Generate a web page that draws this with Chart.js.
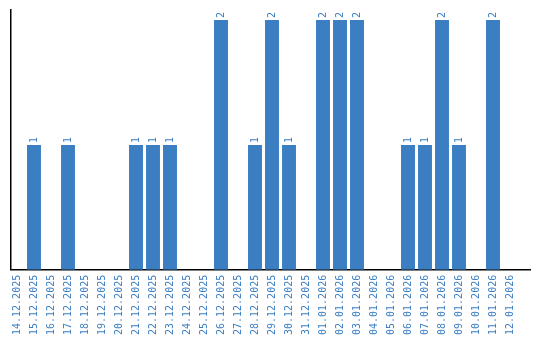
<!DOCTYPE html>
<html><head><meta charset="utf-8">
<script src="https://cdn.jsdelivr.net/npm/chart.js@4/dist/chart.umd.min.js"></script>
<style>html,body{margin:0;padding:0;background:#fff}#w{width:540px;height:340px}</style>
</head><body><div id="w"><canvas id="c"></canvas></div>
<script>
const categories = ["14.12.2025","15.12.2025","16.12.2025","17.12.2025","18.12.2025","19.12.2025","20.12.2025","21.12.2025","22.12.2025","23.12.2025","24.12.2025","25.12.2025","26.12.2025","27.12.2025","28.12.2025","29.12.2025","30.12.2025","31.12.2025","01.01.2026","02.01.2026","03.01.2026","04.01.2026","05.01.2026","06.01.2026","07.01.2026","08.01.2026","09.01.2026","10.01.2026","11.01.2026","12.01.2026"];
const counts = [0,1,0,1,0,0,0,1,1,1,0,0,2,0,1,2,1,0,2,2,2,0,0,1,1,2,1,0,2,0];
const BLUE = '#3b7ec2';
const points = counts.map((v,i)=>({x:i, y:v}));
const valueLabels = {
  id:'valueLabels',
  afterDatasetsDraw(chart){
    const ctx = chart.ctx;
    const meta = chart.getDatasetMeta(0);
    ctx.save();
    ctx.fillStyle = BLUE;
    ctx.font = '10px "DejaVu Sans Mono"';
    ctx.textAlign = 'left';
    ctx.textBaseline = 'middle';
    meta.data.forEach((bar,i)=>{
      const v = counts[i];
      if(!v) return;
      ctx.save();
      ctx.translate(bar.x, bar.y - 2);
      ctx.rotate(-Math.PI/2);
      ctx.fillText(String(v), 0, 0);
      ctx.restore();
    });
    ctx.restore();
  }
};
new Chart(document.getElementById('c'), {
  type:'bar',
  data:{datasets:[{data:points, backgroundColor:BLUE, barPercentage:0.82, categoryPercentage:1}]},
  options:{
    responsive:true, maintainAspectRatio:false, animation:false,
    layout:{padding:{left:10.5,right:9.5,top:10,bottom:0}},
    plugins:{legend:{display:false}, tooltip:{enabled:false}},
    scales:{
      x:{type:'linear', min:-0.382, max:30.206, offset:false,
         grid:{display:false, drawTicks:false}, border:{color:'#000', width:1.5},
         afterBuildTicks(scale){ scale.ticks = categories.map((c,i)=>({value:i})); },
         ticks:{color:BLUE, font:{family:'DejaVu Sans Mono', size:10}, minRotation:90, maxRotation:90, autoSkip:false, padding:5,
                callback:(v)=>categories[v] ?? ''}},
      y:{min:0, max:2.08, grid:{display:false, drawTicks:false}, border:{color:'#000', width:1.5},
         ticks:{display:false}}
    }
  },
  plugins:[valueLabels]
});
</script></body></html>
